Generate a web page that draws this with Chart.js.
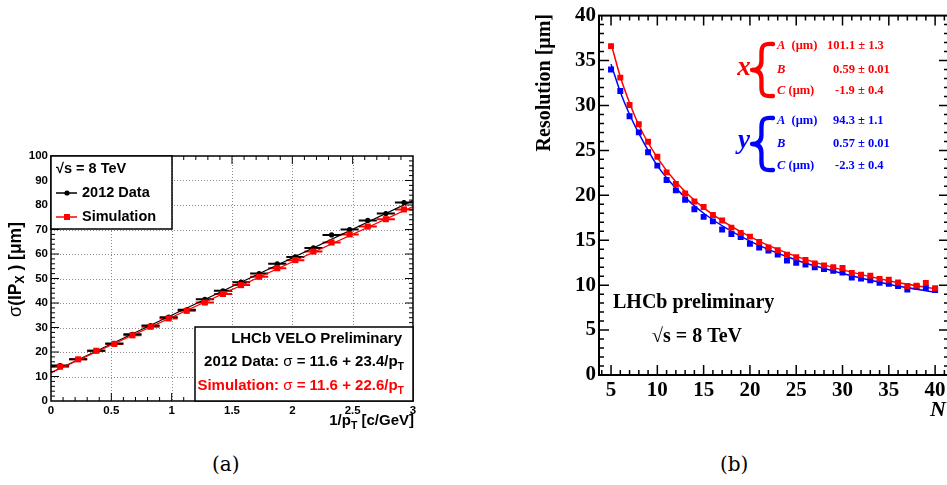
<!DOCTYPE html>
<html><head><meta charset="utf-8">
<script src="https://cdn.jsdelivr.net/npm/chart.js@4/dist/chart.umd.min.js"></script>
<style>
html,body{margin:0;padding:0;background:#fff;overflow:hidden;width:947px;height:485px;position:relative}
#ca{position:absolute;left:0;top:140px}
#cb{position:absolute;left:520px;top:0}
.cap{position:absolute;top:452px;font-family:"DejaVu Serif",serif;font-size:20px;color:#000}
</style></head><body>
<canvas id="ca" width="430" height="300"></canvas>
<canvas id="cb" width="440" height="430"></canvas>
<div class="cap" style="left:212px">(a)</div>
<div class="cap" style="left:720px">(b)</div>
<script>
// ================= Panel (a) data =================
const aBinCenters = [0.075,0.225,0.375,0.525,0.675,0.825,0.975,1.125,1.275,1.425,1.575,1.725,1.875,2.025,2.175,2.325,2.475,2.625,2.775,2.925];
const aBinHalfWidth = [0.075,0.075,0.075,0.075,0.075,0.075,0.075,0.075,0.075,0.075,0.075,0.075,0.075,0.075,0.075,0.075,0.075,0.075,0.075,0.075];
const aData2012 = [14.5,17.0,20.5,23.5,27.2,30.8,34.2,37.2,41.5,45.0,48.5,52.0,56.0,58.8,62.5,67.8,70.0,73.7,76.5,81.0];
const aData2012Err = [0.7,0.6,0.6,0.6,0.6,0.6,0.6,0.6,0.6,0.6,0.7,0.7,0.7,0.7,0.7,0.8,0.8,0.8,0.9,1.0];
const aSimulation = [14.0,17.0,20.5,23.3,26.8,30.3,33.7,36.8,40.2,43.7,47.3,50.7,54.2,57.5,61.0,64.7,68.0,71.2,74.2,78.2];
const aSimulationErr = [0.6,0.5,0.5,0.5,0.5,0.5,0.5,0.5,0.5,0.5,0.6,0.6,0.6,0.6,0.6,0.7,0.7,0.7,0.8,0.9];
const aFitX = [0, 3];
const aFitData2012 = [11.6, 81.8];
const aFitSimulation = [11.6, 79.4];
const aXTicks = [0,0.5,1,1.5,2,2.5,3];
const aXTickLabels = ['0','0.5','1','1.5','2','2.5','3'];
const aYTicks = [0,10,20,30,40,50,60,70,80,90,100];
const aYTickLabels = ['0','10','20','30','40','50','60','70','80','90','100'];

// ================= Panel (b) data =================
const bN = [5,6,7,8,9,10,11,12,13,14,15,16,17,18,19,20,21,22,23,24,25,26,27,28,29,30,31,32,33,34,35,36,37,38,39,40];
const bResX = [36.6,33.1,30.05,27.9,25.95,24.3,22.55,21.25,20.2,19.3,18.7,17.8,17.2,16.4,15.8,15.4,14.8,14.2,13.9,13.4,13.1,12.8,12.4,12.2,12.0,11.9,11.35,11.15,11.05,10.7,10.6,10.3,9.9,9.95,10.25,9.65];
const bResY = [34.0,31.6,28.8,27.0,24.8,23.3,21.7,20.55,19.5,18.45,17.6,17.1,16.2,15.7,15.35,14.6,14.2,13.85,13.4,12.75,12.5,12.3,12.0,11.8,11.6,11.4,10.85,10.75,10.55,10.25,10.15,9.9,9.5,9.85,9.7,9.45];
const bCurveN = [5,6,7,8,10,12,15,20,25,30,35,40];
const bCurveX = [36.9,33.2,30.3,27.8,24.2,21.5,18.6,15.4,13.2,11.7,10.5,9.6];
const bCurveY = [34.6,31.5,29.0,26.9,23.3,20.8,18.0,14.9,12.8,11.3,10.1,9.2];
const bXTicks = [5,10,15,20,25,30,35,40];
const bXTickLabels = ['5','10','15','20','25','30','35','40'];
const bYTicks = [0,5,10,15,20,25,30,35,40];
const bYTickLabels = ['0','5','10','15','20','25','30','35','40'];

// ================= helpers =================
const SANS = '"Liberation Sans", Arial, sans-serif';
const SERIF = '"Liberation Serif", "Times New Roman", serif';
function pts(xs, ys){ return xs.map((x,i)=>({x:x, y:ys[i]})); }
function runs(ctx, parts, x, y, align){
  let w = 0;
  parts.forEach(p=>{ ctx.font = p[1]; w += ctx.measureText(p[0]).width; });
  let cx = align==='right' ? x-w : (align==='center' ? x-w/2 : x);
  ctx.textBaseline = 'middle'; ctx.textAlign = 'left';
  parts.forEach(p=>{ ctx.font = p[1]; ctx.fillStyle = p[3]||'#000'; ctx.fillText(p[0], cx, y+(p[2]||0)); cx += ctx.measureText(p[0]).width; });
}
function drawFrame(chart, f){
  const ctx = chart.ctx, ca = chart.chartArea, xs = chart.scales.x, ys = chart.scales.y;
  ctx.save();
  ctx.strokeStyle = '#000';
  ctx.lineWidth = f.tickW;
  ctx.beginPath();
  for (let v = f.xMinorStart; v <= f.xMax + 1e-9; v += f.xMinorStep){
    const px = xs.getPixelForValue(v);
    if (px < ca.left+1 || px > ca.right-1) continue;
    const isMajor = Math.abs((v - f.xMajorStart)/f.xMajorStep - Math.round((v - f.xMajorStart)/f.xMajorStep)) < 1e-6;
    const L = isMajor ? f.majLen : f.minLen;
    ctx.moveTo(px, ca.bottom); ctx.lineTo(px, ca.bottom - L);
    ctx.moveTo(px, ca.top); ctx.lineTo(px, ca.top + L);
  }
  for (let v = f.yMinorStart; v <= f.yMax + 1e-9; v += f.yMinorStep){
    const py = ys.getPixelForValue(v);
    if (py < ca.top+1 || py > ca.bottom-1) continue;
    const isMajor = Math.abs(v/f.yMajorStep - Math.round(v/f.yMajorStep)) < 1e-6;
    const L = isMajor ? f.majLen : f.minLen;
    ctx.moveTo(ca.left, py); ctx.lineTo(ca.left + L, py);
    ctx.moveTo(ca.right, py); ctx.lineTo(ca.right - L, py);
  }
  ctx.stroke();
  ctx.lineWidth = f.frameW;
  ctx.strokeRect(ca.left, ca.top, ca.right-ca.left, ca.bottom-ca.top);
  ctx.restore();
}
const errorBars = {
  id:'errorBars',
  beforeDatasetsDraw(chart){
    const ctx = chart.ctx, xs = chart.scales.x, ys = chart.scales.y;
    chart.data.datasets.forEach(ds=>{
      if (!ds.errX && !ds.errY) return;
      ctx.save(); ctx.strokeStyle = ds.borderColor; ctx.lineWidth = ds.errW || 1.5;
      ctx.beginPath();
      ds.data.forEach((p,i)=>{
        const px = xs.getPixelForValue(p.x), py = ys.getPixelForValue(p.y);
        if (ds.errX){ ctx.moveTo(xs.getPixelForValue(p.x-ds.errX[i]), py); ctx.lineTo(xs.getPixelForValue(p.x+ds.errX[i]), py); }
        if (ds.errY){ ctx.moveTo(px, ys.getPixelForValue(p.y-ds.errY[i])); ctx.lineTo(px, ys.getPixelForValue(p.y+ds.errY[i])); }
      });
      ctx.stroke(); ctx.restore();
    });
  }
};

// ================= Chart (a) =================
const OFFA = {x:0, y:140};
const gridA = {
  id:'gridA',
  beforeDatasetsDraw(chart){
    const ctx = chart.ctx, ca = chart.chartArea, xs = chart.scales.x, ys = chart.scales.y;
    ctx.save(); ctx.strokeStyle = '#8a8a8a'; ctx.lineWidth = 1; ctx.setLineDash([1,2]);
    ctx.beginPath();
    aXTicks.forEach(v=>{ const px = Math.round(xs.getPixelForValue(v))+0.5; if (px>ca.left+2 && px<ca.right-2){ ctx.moveTo(px, ca.top); ctx.lineTo(px, ca.bottom);} });
    aYTicks.forEach(v=>{ const py = Math.round(ys.getPixelForValue(v))+0.5; if (py>ca.top+2 && py<ca.bottom-2){ ctx.moveTo(ca.left, py); ctx.lineTo(ca.right, py);} });
    ctx.stroke(); ctx.restore();
  },
  afterDraw(chart){
    drawFrame(chart, {tickW:1, frameW:1.5, majLen:8, minLen:4,
      xMinorStart:0, xMinorStep:0.1, xMax:3, xMajorStart:0, xMajorStep:0.5,
      yMinorStart:0, yMinorStep:2, yMax:100, yMajorStep:10});
    const ctx = chart.ctx;
    const P = (x,y)=>[x-OFFA.x, y-OFFA.y];
    ctx.save();
    // legend box
    let [bx,by] = P(51,156), [bx2,by2] = P(172,229);
    ctx.fillStyle='#fff'; ctx.fillRect(bx,by,bx2-bx,by2-by);
    ctx.strokeStyle='#000'; ctx.lineWidth=1.5; ctx.strokeRect(bx,by,bx2-bx,by2-by);
    const fL = 'bold 14.5px '+SANS;
    runs(ctx, [['√s = 8 TeV', fL]], ...P(56,169), 'left');
    let [lx,ly] = P(56,193);
    ctx.strokeStyle='#000'; ctx.lineWidth=1.5; ctx.beginPath(); ctx.moveTo(lx,ly); ctx.lineTo(lx+21,ly); ctx.stroke();
    ctx.fillStyle='#000'; ctx.beginPath(); ctx.arc(lx+11,ly,2.6,0,Math.PI*2); ctx.fill();
    runs(ctx, [['2012 Data', fL]], ...P(82,193), 'left');
    [lx,ly] = P(56,217);
    ctx.strokeStyle='#f00'; ctx.beginPath(); ctx.moveTo(lx,ly); ctx.lineTo(lx+21,ly); ctx.stroke();
    ctx.fillStyle='#f00'; ctx.fillRect(lx+8,ly-3,6,6);
    runs(ctx, [['Simulation', fL]], ...P(82,217), 'left');
    // result box
    [bx,by] = P(195,327); [bx2,by2] = P(413,401);
    ctx.fillStyle='#fff'; ctx.fillRect(bx,by,bx2-bx,by2-by);
    ctx.strokeStyle='#000'; ctx.lineWidth=1.5; ctx.strokeRect(bx,by,bx2-bx,by2-by);
    const fB = 'bold 15px '+SANS, fS = 'bold 10.5px '+SANS, fG = '15px '+SANS;
    runs(ctx, [['LHCb VELO Preliminary', fB]], ...P(402,339), 'right');
    runs(ctx, [['2012 Data: ', fB, 0, '#000'], ['σ', fG, 0, '#000'], [' = 11.6 + 23.4/p', fB, 0, '#000'], ['T', fS, 5, '#000']], ...P(404,362), 'right');
    runs(ctx, [['Simulation: ', fB, 0, '#f00'], ['σ', fG, 0, '#f00'], [' = 11.6 + 22.6/p', fB, 0, '#f00'], ['T', fS, 5, '#f00']], ...P(404,386), 'right');
    // axis titles
    const fT = 'bold 15px '+SANS, fTs = 'bold 10.5px '+SANS;
    runs(ctx, [['1/p', fT], ['T', fTs, 5], [' [c/GeV]', fT]], ...P(414,421), 'right');
    ctx.save();
    const [tx,ty] = P(16,222);
    ctx.translate(tx,ty); ctx.rotate(-Math.PI/2);
    const fY = 'bold 17.5px '+SANS, fYs = 'bold 12px '+SANS;
    runs(ctx, [['σ', '18px '+SANS], ['(IP', fY], ['X', fYs, 5], [' ) [μm]', fY]], 0, 0, 'right');
    ctx.restore();
    ctx.restore();
  }
};
new Chart(document.getElementById('ca'), {
  type:'scatter',
  data:{datasets:[
    {label:'Simulation', data:pts(aBinCenters, aSimulation), errX:aBinHalfWidth, errY:aSimulationErr, errW:2,
     pointStyle:'rect', pointRadius:4.3, backgroundColor:'#ff0000', borderColor:'#ff0000', borderWidth:0, order:0},
    {label:'2012 Data', data:pts(aBinCenters, aData2012), errX:aBinHalfWidth, errY:aData2012Err, errW:2,
     pointStyle:'circle', pointRadius:2.6, backgroundColor:'#000', borderColor:'#000', borderWidth:0, order:1},
    {label:'fit sim', data:pts(aFitX, aFitSimulation), showLine:true, borderColor:'#ff0000', borderWidth:1.2, pointRadius:0, order:2},
    {label:'fit data', data:pts(aFitX, aFitData2012), showLine:true, borderColor:'#000', borderWidth:1.2, pointRadius:0, order:3}
  ]},
  options:{
    responsive:false, animation:false, events:[],
    layout:{padding:{left:0, right:17, top:16, bottom:0}},
    plugins:{legend:{display:false}, tooltip:{enabled:false}},
    scales:{
      x:{type:'linear', min:0, max:3,
        afterBuildTicks:s=>{ s.ticks = aXTicks.map(v=>({value:v})); },
        afterFit:s=>{ s.height = 39; },
        grid:{display:false, drawTicks:false}, border:{display:false},
        ticks:{autoSkip:false, maxRotation:0, padding:3, color:'#000', font:{family:SANS, weight:'bold', size:11.5},
          callback:(v,i)=>aXTickLabels[i]}},
      y:{type:'linear', min:0, max:100,
        afterBuildTicks:s=>{ s.ticks = aYTicks.map(v=>({value:v})); },
        afterFit:s=>{ s.width = 51; },
        grid:{display:false, drawTicks:false}, border:{display:false},
        ticks:{autoSkip:false, padding:3, color:'#000', font:{family:SANS, weight:'bold', size:11.5},
          callback:(v,i)=>aYTickLabels[i]}}
    }
  },
  plugins:[errorBars, gridA]
});

// ================= Chart (b) =================
const OFFB = {x:520, y:0};
function brace(ctx, xr, yt, yb, w, color){
  const xm = xr - w*0.55, xl = xr - w, ym = (yt+yb)/2;
  ctx.save(); ctx.strokeStyle=color; ctx.lineWidth=4.3; ctx.lineCap='round'; ctx.lineJoin='round';
  ctx.beginPath();
  ctx.moveTo(xr, yt+1);
  ctx.bezierCurveTo(xm+1, yt, xm, yt+4, xm, yt+10);
  ctx.lineTo(xm, ym-9);
  ctx.bezierCurveTo(xm, ym-3, xm-3, ym, xl, ym);
  ctx.bezierCurveTo(xm-3, ym, xm, ym+3, xm, ym+9);
  ctx.lineTo(xm, yb-10);
  ctx.bezierCurveTo(xm, yb-4, xm+1, yb, xr, yb-1);
  ctx.stroke(); ctx.restore();
}
const textB = {
  id:'textB',
  afterDraw(chart){
    drawFrame(chart, {tickW:1.5, frameW:2, majLen:10, minLen:5,
      xMinorStart:4, xMinorStep:1, xMax:41, xMajorStart:5, xMajorStep:5,
      yMinorStart:0, yMinorStep:1, yMax:40, yMajorStep:5});
    const ctx = chart.ctx;
    const P = (x,y)=>[x-OFFB.x, y-OFFB.y];
    ctx.save();
    const fBig = 'bold 20px '+SERIF;
    runs(ctx, [['LHCb preliminary', fBig]], ...P(613,303), 'left');
    runs(ctx, [['√s = 8 TeV', fBig]], ...P(652,337), 'left');
    runs(ctx, [['N', 'italic bold 22px '+SERIF]], ...P(946,410), 'right');
    // y title
    ctx.save();
    const [tx,ty] = P(545,14);
    ctx.translate(tx,ty); ctx.rotate(-Math.PI/2);
    runs(ctx, [['Resolution [μm]', 'bold 20px '+SERIF]], 0, 0, 'right');
    ctx.restore();
    // parameter blocks
    const R = '#ff0000', B = '#0000ff';
    const fI = 'italic bold 12.5px '+SERIF, fN = 'bold 12.5px '+SERIF;
    const block = (col, sym, symY, bt, bb, rows)=>{
      runs(ctx, [[sym, 'italic bold 27px '+SERIF, 0, col]], ...P(744,symY), 'center');
      const [bxr, byt] = P(773, bt); const [, byb] = P(773, bb);
      brace(ctx, bxr, byt, byb, 21, col);
      rows.forEach(r=>{
        runs(ctx, [[r[0], fI, 0, col]].concat(r[1] ? [[r[1], fN, 0, col]] : []), ...P(777, r[2]), 'left');
        runs(ctx, [[r[3], fN, 0, col]], ...P(r[4], r[2]), 'left');
      });
    };
    block(R, 'x', 68, 43, 97, [['A', '  (μm)', 46, '101.1 ± 1.3', 827], ['B', '', 70, '0.59 ± 0.01', 833], ['C', ' (μm)', 91, '-1.9 ± 0.4', 835]]);
    block(B, 'y', 141, 117, 171, [['A', '  (μm)', 121, '94.3 ± 1.1', 833], ['B', '', 144, '0.57 ± 0.01', 833], ['C', ' (μm)', 166, '-2.3 ± 0.4', 835]]);
    ctx.restore();
  }
};
new Chart(document.getElementById('cb'), {
  type:'scatter',
  data:{datasets:[
    {label:'x', data:pts(bN, bResX), pointStyle:'rect', pointRadius:4.2, backgroundColor:'#ff0000', borderColor:'#ff0000', borderWidth:0, order:0},
    {label:'y', data:pts(bN, bResY), pointStyle:'rect', pointRadius:4.2, backgroundColor:'#0000ff', borderColor:'#0000ff', borderWidth:0, order:1},
    {label:'x fit', data:pts(bCurveN, bCurveX), showLine:true, cubicInterpolationMode:'monotone', borderColor:'#ff0000', borderWidth:1.5, pointRadius:0, order:2},
    {label:'y fit', data:pts(bCurveN, bCurveY), showLine:true, cubicInterpolationMode:'monotone', borderColor:'#0000ff', borderWidth:1.5, pointRadius:0, order:3}
  ]},
  options:{
    responsive:false, animation:false, events:[],
    layout:{padding:{left:0, right:11, top:14, bottom:0}},
    plugins:{legend:{display:false}, tooltip:{enabled:false}},
    scales:{
      x:{type:'linear', min:3.7, max:41.5,
        afterBuildTicks:s=>{ s.ticks = bXTicks.map(v=>({value:v})); },
        afterFit:s=>{ s.height = 55; },
        grid:{display:false, drawTicks:false}, border:{display:false},
        ticks:{autoSkip:false, maxRotation:0, padding:3, color:'#000', font:{family:SERIF, weight:'bold', size:21},
          callback:(v,i)=>bXTickLabels[i]}},
      y:{type:'linear', min:0, max:40,
        afterBuildTicks:s=>{ s.ticks = bYTicks.map(v=>({value:v})); },
        afterFit:s=>{ s.width = 79; },
        grid:{display:false, drawTicks:false}, border:{display:false},
        ticks:{autoSkip:false, padding:3, color:'#000', font:{family:SERIF, weight:'bold', size:21},
          callback:(v,i)=>bYTickLabels[i]}}
    }
  },
  plugins:[textB]
});
</script>
</body></html>
